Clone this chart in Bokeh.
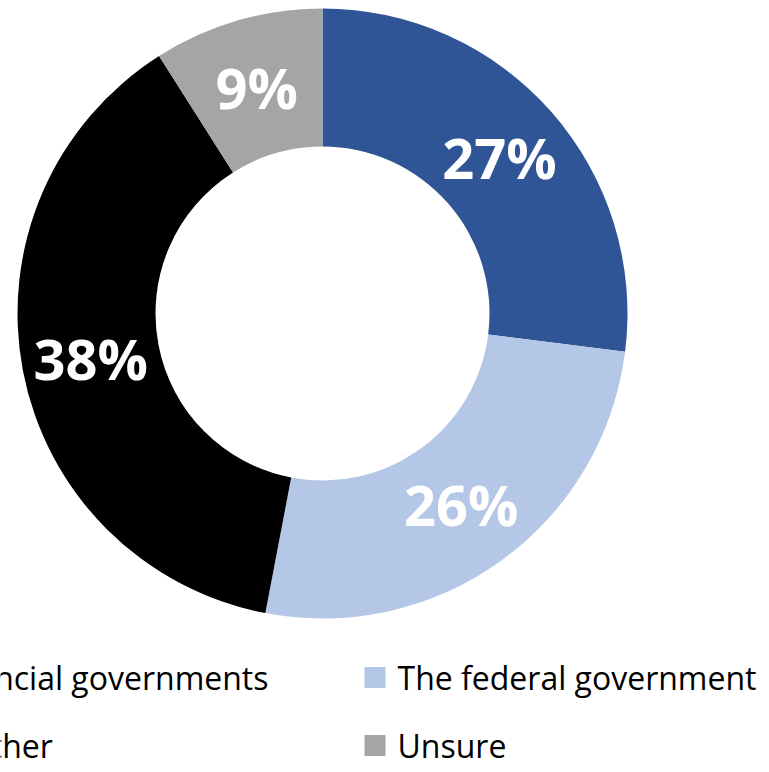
import numpy as np
from bokeh.plotting import figure
from bokeh.models import Range1d, ColumnDataSource
from bokeh.core.properties import value
from bokeh.embed import file_html
from bokeh.resources import INLINE

categories = ["Provincial governments", "The federal government", "Together", "Unsure"]
values = [27, 26, 38, 9]
colors = ["#2F5597", "#B4C7E7", "#000000", "#A5A5A5"]

W, H = 769, 772
p = figure(width=W, height=H, output_backend="svg", toolbar_location=None,
           x_range=Range1d(0, W), y_range=Range1d(0, H), min_border=0)
p.axis.visible = False
p.grid.visible = False
p.outline_line_color = None
p.background_fill_color = "white"

cx, cy = 322, H - 313
r_in, r_out = 167, 305

vals = np.array(values, dtype=float)
frac = vals / vals.sum()
cum = np.concatenate([[0], np.cumsum(frac)])
start = np.pi / 2 - cum[:-1] * 2 * np.pi
end = np.pi / 2 - cum[1:] * 2 * np.pi
mid = (start + end) / 2
r_lab = (r_in + r_out) / 2

src = ColumnDataSource(dict(
    cat=categories, val=values, color=colors, start=start, end=end,
    lx=cx + r_lab * np.cos(mid), ly=cy + r_lab * np.sin(mid),
    label=[f"{v}%" for v in values],
))

p.annular_wedge(x=cx, y=cy, inner_radius=r_in, outer_radius=r_out,
                start_angle="start", end_angle="end", direction="clock",
                fill_color="color", line_color=None, source=src)

p.text(x="lx", y="ly", text="label", source=src, text_color="white",
       text_font=value("Open Sans"), text_font_style="bold",
       text_font_size="56px", text_align="center", text_baseline="middle")

# legend (manually placed, two columns; left column runs off the canvas as in the source)
idx = np.arange(len(categories))
col = idx % 2
row = idx // 2
sq_x = np.where(col == 0, -104.5, 374.5)
leg_y = H - (677 + row * 68)
leg = ColumnDataSource(dict(
    sx=sq_x, sy=leg_y, tx=sq_x + 22.5, color=colors, cat=categories))
p.rect(x="sx", y="sy", width=21, height=21, fill_color="color",
       line_color=None, source=leg)
p.text(x="tx", y="sy", text="cat", source=leg, text_color="black",
       text_font=value("Open Sans"), text_font_size="32px",
       text_align="left", text_baseline="middle")

open("out.html", "w").write(file_html(p, INLINE))
